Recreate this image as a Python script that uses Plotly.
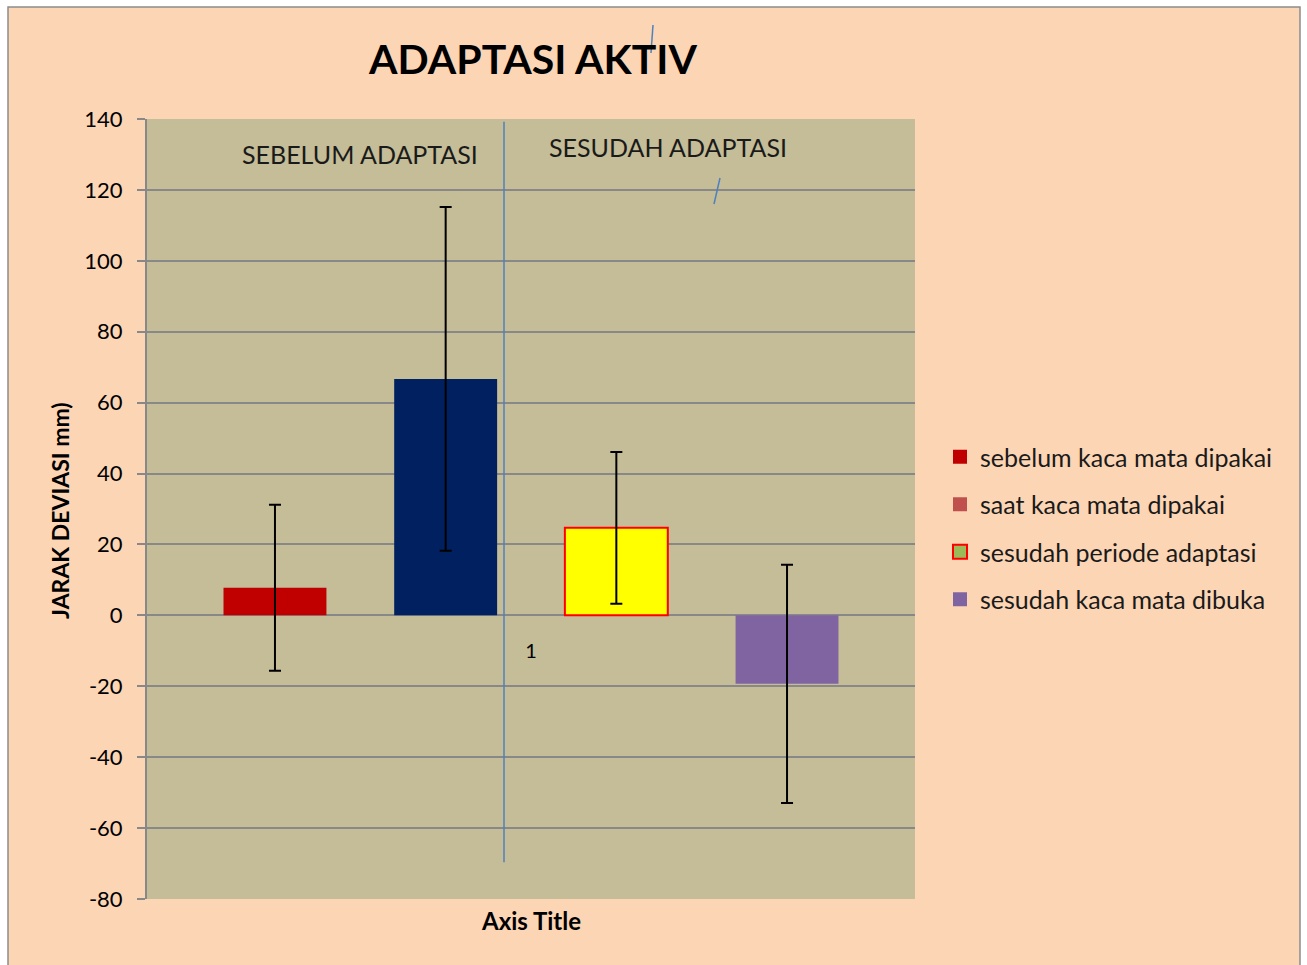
import plotly.graph_objects as go

# ---- data ----
category = ["1"]
series_names = ["sebelum kaca mata dipakai", "saat kaca mata dipakai",
                "sesudah periode adaptasi", "sesudah kaca mata dibuka"]
values = [7.8, 66.7, 24.7, -19.3]
errors = [23.4, 48.5, 21.4, 33.6]
bar_colors = ["#C00000", "#002060", "#FFFF00", "#8064A2"]
bar_line_colors = ["#C00000", "#002060", "#FF0000", "#8064A2"]
bar_line_widths = [0, 0, 2, 0]
legend_colors = ["#C00000", "#C0504D", "#9BBB59", "#8064A2"]
legend_line_colors = ["#C00000", "#C0504D", "#FF0000", "#8064A2"]
legend_line_widths = [0, 0, 2, 0]
y_ticks = [-80, -60, -40, -20, 0, 20, 40, 60, 80, 100, 120, 140]
y_tick_labels = [str(v) for v in y_ticks]

FONT = "Lato"
GRID = "#888888"

fig = go.Figure()
for i, name in enumerate(series_names):
    fig.add_trace(go.Bar(
        x=category, y=[values[i]], name=name, showlegend=False,
        marker=dict(color=bar_colors[i],
                    line=dict(color=bar_line_colors[i], width=bar_line_widths[i])),
        error_y=dict(type="data", array=[errors[i]], visible=True,
                     color="black", thickness=2, width=6),
    ))
for i, name in enumerate(series_names):
    fig.add_trace(go.Scatter(
        x=[None], y=[None], mode="markers", name=name, legendgroup=str(i),
        marker=dict(symbol="square", size=14, color=legend_colors[i],
                    line=dict(color=legend_line_colors[i], width=legend_line_widths[i])),
    ))

W, H = 1307, 965
L, R, T, B = 147, 915, 119, 899
pw, ph = R - L, B - T

def px(x):
    return (x - L) / pw

def py(y):
    return (B - y) / ph

shapes = [
    dict(type="rect", xref="paper", yref="paper", layer="below",
         x0=px(8), x1=px(1300), y0=py(975), y1=py(7),
         fillcolor="#FCD5B5", line=dict(color="#8C8C8C", width=1.5)),
    dict(type="rect", xref="paper", yref="paper", layer="below",
         x0=0, x1=1, y0=0, y1=1, fillcolor="#C4BD97", line=dict(width=0)),
    dict(type="line", xref="paper", yref="y", x0=px(504), x1=px(504),
         y0=-69.6, y1=139.2, line=dict(color="#4F81BD", width=1.5)),
    dict(type="line", xref="paper", yref="paper", x0=px(653), x1=px(651),
         y0=py(25), y1=py(53), line=dict(color="#4F81BD", width=1.5)),
    dict(type="line", xref="paper", yref="paper", x0=px(720), x1=px(714),
         y0=py(178), y1=py(204), line=dict(color="#4F81BD", width=1.5)),
]

annotations = [
    dict(text="SEBELUM ADAPTASI", xref="paper", yref="paper", x=px(360), y=py(154),
         xanchor="center", yanchor="middle", showarrow=False,
         font=dict(family=FONT, size=25, color="#1a1a1a")),
    dict(text="SESUDAH ADAPTASI", xref="paper", yref="paper", x=px(668), y=py(147),
         xanchor="center", yanchor="middle", showarrow=False,
         font=dict(family=FONT, size=25, color="#1a1a1a")),
    dict(text="<b>Axis Title</b>", xref="paper", yref="paper", x=px(531), y=py(921),
         xanchor="center", yanchor="middle", showarrow=False,
         font=dict(family=FONT, size=24, color="black")),
    dict(text="<b>JARAK DEVIASI mm)</b>", xref="paper", yref="paper", x=px(60), y=py(511),
         xanchor="center", yanchor="middle", showarrow=False, textangle=-90,
         font=dict(family=FONT, size=23, color="black")),
]

fig.update_layout(
    width=W, height=H,
    margin=dict(l=L, r=W - R, t=T, b=H - B, pad=0),
    paper_bgcolor="white", plot_bgcolor="rgba(0,0,0,0)",
    barmode="group", bargap=0.111, bargroupgap=0.397,
    title=dict(text="<b>ADAPTASI AKTIV</b>", xref="container", yref="container",
               x=533 / W, y=1 - 60 / H, xanchor="center", yanchor="middle",
               font=dict(family=FONT, size=41, color="black")),
    font=dict(family=FONT, color="black"),
    showlegend=True,
    legend=dict(x=px(940), y=py(528), xanchor="left", yanchor="middle",
                bgcolor="rgba(0,0,0,0)", traceorder="grouped", tracegroupgap=12,
                font=dict(family=FONT, size=25, color="#1a1a1a")),
    shapes=shapes, annotations=annotations,
    xaxis=dict(type="category", range=[-0.5, 0.5], showgrid=False, zeroline=False,
               showline=False, ticks="", anchor="free", position=py(615.4),
               tickfont=dict(family=FONT, size=20, color="black"),
               ticklabelstandoff=22),
    yaxis=dict(range=[-80, 140], tickvals=y_ticks, ticktext=y_tick_labels,
               showgrid=True, gridcolor=GRID,
               gridwidth=2, zeroline=True, zerolinecolor=GRID, zerolinewidth=2,
               showline=True, linecolor=GRID, linewidth=2,
               ticks="outside", ticklen=8, tickcolor=GRID, tickwidth=2,
               tickfont=dict(family=FONT, size=22, color="black"),
               ticklabelstandoff=10),
)

fig.write_html("out.html", config={"displayModeBar": False},
               post_script="document.body.style.margin='0';")
